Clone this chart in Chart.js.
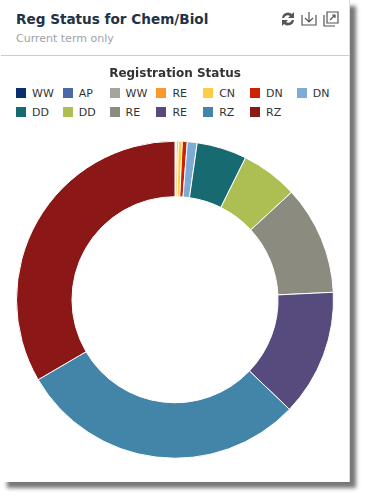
<!DOCTYPE html>
<html>
<head>
<meta charset="utf-8">
<script src="https://cdn.jsdelivr.net/npm/chart.js@4"></script>
<style>
  html, body { margin: 0; padding: 0; background: #fff; }
  body { width: 365px; height: 497px; overflow: hidden; position: relative; font-family: "DejaVu Sans", sans-serif; }
  #card { position: absolute; left: 1px; top: 0; width: 348px; height: 482px; background: #fff; border-right: 1px solid #ddd; box-shadow: 6px 6px 4px #777; }
  #head { position: absolute; left: 15px; top: 11px; font-weight: bold; font-size: 13.6px; color: #1f3247; }
  #sub { position: absolute; left: 15px; top: 32px; font-size: 11px; color: #9aa3ad; }
  #rule { position: absolute; left: 0; top: 55px; width: 348px; height: 1px; background: #ccc; }
  #tools { position: absolute; left: 279px; top: 10px; }
  #wrap { position: absolute; left: 0; top: 56px; width: 348px; height: 426px; }
  #legend { position: absolute; left: 15px; top: 88px; width: 330px; font-size: 11px; color: #333; }
  .item { position: absolute; white-space: nowrap; line-height: 12px; }
  .item i { display: inline-block; width: 10px; height: 10px; margin-right: 6px; vertical-align: -1px; }
</style>
</head>
<body>
<div id="card">
  <div id="head">Reg Status for Chem/Biol</div>
  <div id="sub">Current term only</div>
  <svg id="tools" width="60" height="18" fill="none" stroke="#555" stroke-width="1.2">
    <path d="M2 8a6 6 0 0 1 10-4l2-2v6h-6l2-2a4 4 0 0 0-6 2zM14 10a6 6 0 0 1-10 4l-2 2v-6h6l-2 2a4 4 0 0 0 6-2z" fill="#555" stroke="none"/>
    <path d="M22 5v10h14v-10M29 2v9M25 8l4 4 4-4" />
    <path d="M44 5v11h11M47 2h11v11h-11zM50 10l5-5M52 5h3v3"/>
  </svg>
  <div id="rule"></div>
  <div id="legend"></div>
  <div id="wrap"><canvas id="c" width="348" height="426"></canvas></div>
</div>
<script>
const statusLabels = ["WW", "AP", "WW", "RE", "CN", "DN", "DN", "DD", "DD", "RE", "RE", "RZ", "RZ"];
const statusCounts = [0.02, 0.02, 0.1, 0.2, 0.4, 0.5, 1.0, 5.1, 5.8, 11.1, 12.9, 29.4, 33.4];
const statusColors = ["#0a2f6f", "#4a69a6", "#a5a59b", "#f79a2a", "#ffcd44", "#cc2200", "#7eabd6",
  "#176a70", "#adbf52", "#8b8b80", "#574b7e", "#4285a9", "#8c1717"];

const legendEl = document.getElementById("legend");
statusLabels.forEach((label, i) => {
  const item = document.createElement("div");
  item.className = "item";
  item.style.left = (i % 7) * 46.8 + "px";
  item.style.top = Math.floor(i / 7) * 18.5 + "px";
  item.innerHTML = '<i style="background:' + statusColors[i] + '"></i>' + label;
  legendEl.appendChild(item);
});

new Chart(document.getElementById("c"), {
  type: "doughnut",
  data: {
    labels: statusLabels,
    datasets: [{ data: statusCounts, backgroundColor: statusColors, borderColor: "#fff", borderWidth: 1, cutout: "65%" }],
  },
  options: {
    responsive: false,
    animation: false,
    layout: { padding: { left: 15, right: 15, top: 0, bottom: 23 } },
    plugins: {
      legend: { display: false },
      tooltip: { enabled: false },
      title: {
        display: true,
        text: "Registration Status",
        color: "#333",
        font: { family: "DejaVu Sans", size: 12, weight: "bold" },
        padding: { top: 11, bottom: 59 },
      },
    },
  },
});
</script>
</body>
</html>
